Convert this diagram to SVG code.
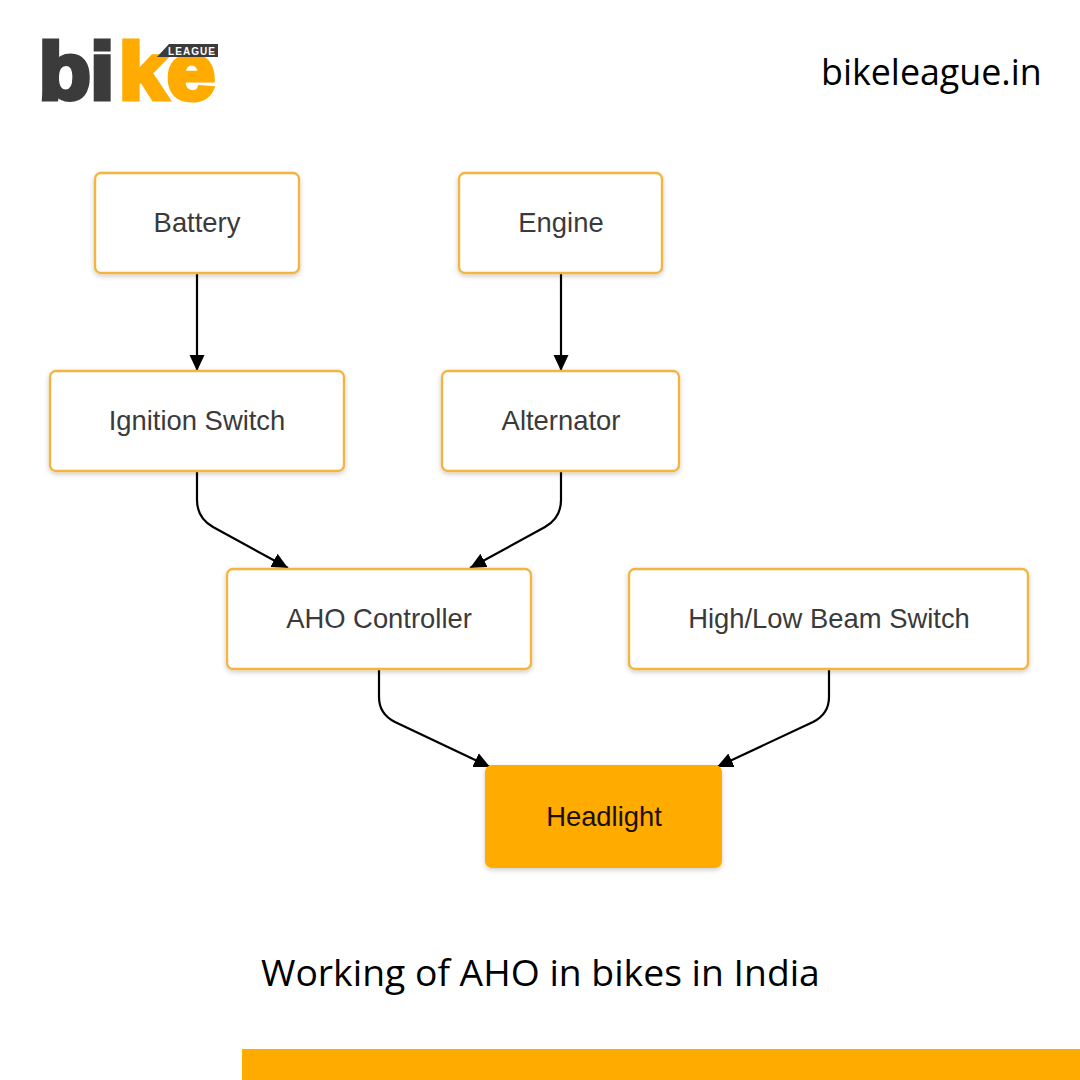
<svg xmlns="http://www.w3.org/2000/svg" width="1080" height="1080" viewBox="0 0 1080 1080">
<style>
.n{fill:#fff;stroke:#f3b541;stroke-width:2.4;filter:url(#s)}
.t{font-family:"Liberation Sans",Arial,sans-serif;font-size:27.4px;fill:#3a3a3a;text-anchor:middle}
.c{fill:none;stroke:#000;stroke-width:2.2;marker-end:url(#a)}
.o{font-family:"Open Sans",sans-serif;fill:#000}
.l{font-family:"Liberation Sans",Arial,sans-serif;font-weight:700;font-size:79px;stroke-width:5;stroke-linejoin:miter}
</style>
<defs>
<filter id="s" x="-10%" y="-15%" width="120%" height="135%"><feDropShadow dx="0" dy="2" stdDeviation="2.5" flood-color="#000" flood-opacity=".2"/></filter>
<marker id="a" markerUnits="userSpaceOnUse" markerWidth="18" markerHeight="18" refX="16" refY="8" orient="auto"><path d="M0 0.5L16 8L0 15.5Z" fill="#000"/></marker>
</defs>
<rect width="1080" height="1080" fill="#fff"/>
<g id="logo">
<text class="l" x="39" y="99" fill="#3b3b3b" stroke="#3b3b3b" textLength="75" lengthAdjust="spacingAndGlyphs">bi</text>
<text class="l" x="119" y="99" fill="#ffab00" stroke="#ffab00" textLength="96" lengthAdjust="spacingAndGlyphs">ke</text>
<path d="M157 57L169 44H218V57Z" fill="#3b3b3b"/>
<text x="168" y="55" font-family="Liberation Sans,sans-serif" font-weight="700" font-size="10" fill="#fff" textLength="47">LEAGUE</text>
</g>
<text id="site" class="o" x="821" y="85" font-size="35.8">bikeleague.in</text>
<g id="connectors">
<path class="c" d="M197 273V371"/>
<path class="c" d="M561 273V371"/>
<path class="c" d="M197 471V500Q197 518 213 527L288 568"/>
<path class="c" d="M561 471V500Q561 518 545 527L470 568"/>
<path class="c" d="M379 669V697Q379 714 395 722L490 767"/>
<path class="c" d="M829 669V697Q829 714 813 722L717 767"/>
</g>
<g id="battery"><rect class="n" x="95" y="173" width="204" height="100" rx="6"/><text class="t" x="197" y="232">Battery</text></g>
<g id="engine"><rect class="n" x="459" y="173" width="203" height="100" rx="6"/><text class="t" x="561" y="232">Engine</text></g>
<g id="ignition"><rect class="n" x="50" y="371" width="294" height="100" rx="6"/><text class="t" x="197" y="430">Ignition Switch</text></g>
<g id="alternator"><rect class="n" x="442" y="371" width="237" height="100" rx="6"/><text class="t" x="561" y="430">Alternator</text></g>
<g id="aho"><rect class="n" x="227" y="569" width="304" height="100" rx="6"/><text class="t" x="379" y="628">AHO Controller</text></g>
<g id="beam"><rect class="n" x="629" y="569" width="399" height="100" rx="6"/><text class="t" x="829" y="628">High/Low Beam Switch</text></g>
<g id="headlight"><rect x="485" y="765" width="237" height="103" rx="7" fill="#ffab00" filter="url(#s)"/><text class="t" x="604" y="826" style="fill:#1a0f00">Headlight</text></g>
<text id="title" class="o" x="261" y="986" font-size="37.3">Working of AHO in bikes in India</text>
<rect id="bar" x="242" y="1049" width="838" height="31" fill="#ffab00"/>
</svg>
